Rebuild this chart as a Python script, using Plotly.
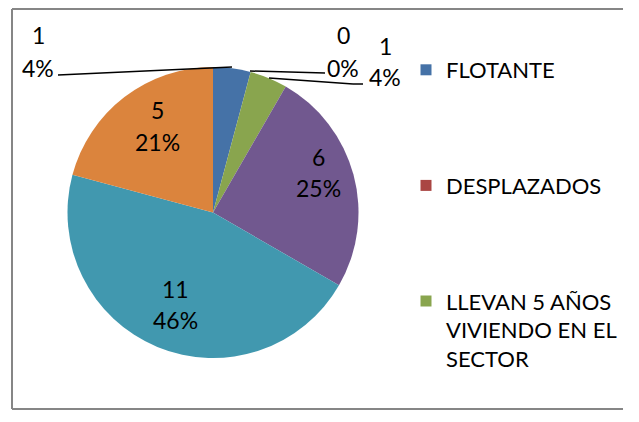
import plotly.graph_objects as go

# ---- data ----
categories = ["FLOTANTE", "DESPLAZADOS", "LLEVAN 5 AÑOS<br>VIVIENDO EN EL<br>SECTOR",
              "CATEGORÍA 4", "CATEGORÍA 5", "CATEGORÍA 6"]
values = [1, 0, 1, 6, 11, 5]
legend_count = 3  # only the first three categories appear in the legend
colors = ["#4572A7", "#AA4643", "#89A54E", "#71588F", "#4198AF", "#DB843D"]

# page body has an 8px margin; work in reference-pixel coordinates
OFF = 8
W, H = 615, 402
FONT = "Lato"
FS = 23
LEG_FS = 22

def px(x):
    return (x - OFF) / W

def py(y):
    return 1 - (y - OFF) / H

total = sum(values)
pct = [f"{round(v / total * 100)}%" for v in values]

fig = go.Figure()

fig.add_trace(go.Pie(
    labels=categories,
    values=values,
    sort=False,
    direction="clockwise",
    rotation=0,
    marker=dict(colors=colors, line=dict(width=0)),
    textinfo="none",
    domain=dict(x=[px(66), px(360)], y=[py(358), py(67)]),
    showlegend=False,
    hoverinfo="label+value+percent",
))

# legend entries (first three categories)
for i in range(legend_count):
    fig.add_trace(go.Scatter(
        x=[None], y=[None], mode="markers", name=categories[i],
        marker=dict(symbol="square", size=11, color=colors[i]),
        legendgroup=f"g{i}", showlegend=True,
    ))

# data labels: (x, y of value line, y of percent line)
label_pos = {
    0: (38, 35, 68),
    1: (343, 35, 68),
    2: (385, 46, 77),
    3: (318, 157, 188),
    4: (175, 289, 320),
    5: (157, 110, 142),
}
annotations = []
for i, (x, y1, y2) in label_pos.items():
    for yy, txt in ((y1, str(values[i])), (y2, pct[i])):
        annotations.append(dict(x=px(x), y=py(yy), xref="paper", yref="paper",
                                xanchor="center", yanchor="middle",
                                text=txt, showarrow=False,
                                font=dict(family=FONT, size=FS, color="black")))

leader_lines = [
    [(58, 75), (232, 67)],
    [(325, 73), (250, 71)],
    [(363, 84), (353, 84), (269, 78)],
]
shapes = []
for pts in leader_lines:
    for (xa, ya), (xb, yb) in zip(pts[:-1], pts[1:]):
        shapes.append(dict(type="line", xref="paper", yref="paper",
                           x0=px(xa), y0=py(ya), x1=px(xb), y1=py(yb),
                           line=dict(color="black", width=1.5)))
# chart frame (left, top, bottom; the right edge is outside the picture)
frame = [((12, 9), (12, 409)), ((12, 9), (OFF + W, 9)), ((12, 409), (OFF + W, 409))]
for (xa, ya), (xb, yb) in frame:
    shapes.append(dict(type="line", xref="paper", yref="paper",
                       x0=px(xa), y0=py(ya), x1=px(xb), y1=py(yb),
                       line=dict(color="#868686", width=2)))

fig.update_layout(
    width=W, height=H,
    margin=dict(l=0, r=0, t=0, b=0, autoexpand=False),
    paper_bgcolor="white", plot_bgcolor="white",
    xaxis=dict(visible=False), yaxis=dict(visible=False),
    showlegend=True,
    legend=dict(x=px(406), y=py(49), xanchor="left", yanchor="top",
                font=dict(family=FONT, size=LEG_FS, color="black"),
                itemwidth=30, tracegroupgap=84, valign="top",
                bgcolor="rgba(0,0,0,0)"),
    annotations=annotations,
    shapes=shapes,
)

fig.write_html("out.html")
